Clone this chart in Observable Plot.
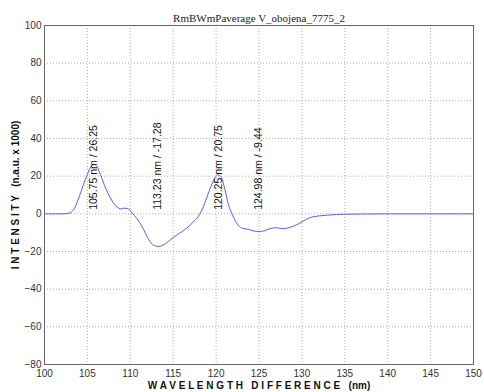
<!DOCTYPE html>
<html>
<head>
<meta charset="utf-8">
<script src="https://cdn.jsdelivr.net/npm/d3@7"></script>
<script src="https://cdn.jsdelivr.net/npm/@observablehq/plot@0.6"></script>
<style>
  body { margin: 0; background: #fff; }
  svg { font-family: Arial, "Liberation Sans", sans-serif; }
</style>
</head>
<body>
<div id="chart"></div>
<script>
const titleText = "RmBWmPaverage V_obojena_7775_2";
const xLabel = "W A V E L E N G T H   D I F F E R E N C E   (nm)";
const yLabel = "I N T E N S I T Y   (n.a.u. x 1000)";

const wavelength = [100, 101, 102, 102.5, 103, 103.5, 104, 104.5, 105, 105.4, 105.75, 106.1, 106.5, 107, 107.5, 108, 108.5, 108.9, 109.3, 109.7, 110.2, 110.8, 111.4, 112, 112.6, 113.23, 113.8, 114.4, 115, 115.9, 116.6, 117.3, 117.9, 118.4, 118.9, 119.4, 119.9, 120.25, 120.6, 121.0, 121.4, 121.9, 122.4, 123.0, 123.8, 124.3, 124.98, 125.6, 126.3, 127.0, 127.9, 128.6, 129.3, 130, 130.6, 131.3, 132, 133, 134, 135, 137, 140, 145, 150];
const intensity = [0, 0, 0, 0.1, 0.6, 3, 8.5, 15, 21, 25, 26.25, 25.2, 21, 15, 10, 6, 3.5, 2.6, 3.0, 2.8, 0.5, -2.7, -7, -12.5, -16.3, -17.28, -16.7, -14.8, -12.6, -9.8, -7.5, -4.5, -1.5, 2.5, 8.5, 14.5, 19.3, 20.75, 19.4, 13.5, 5.5, -0.5, -5, -7.6, -8.3, -9, -9.44, -9, -7.8, -7.4, -7.9, -7.2, -6, -4.3, -2.7, -1.6, -1.1, -0.7, -0.4, -0.2, -0.1, 0, 0, 0];

const peakWavelength = [105.75, 113.23, 120.25, 124.98];
const peakValue = [26.25, -17.28, 20.75, -9.44];

const xTicks = [100, 105, 110, 115, 120, 125, 130, 135, 140, 145, 150];
const yTicks = [-80, -60, -40, -20, 0, 20, 40, 60, 80, 100];

const curve = wavelength.map((w, i) => ({w, v: intensity[i]}));
const peaks = peakWavelength.map((w, i) => ({w, v: peakValue[i], label: `${w.toFixed(2)} nm / ${peakValue[i].toFixed(2)}`}));

const plot = Plot.plot({
  width: 484,
  height: 392,
  marginLeft: 44,
  marginRight: 11,
  marginTop: 25,
  marginBottom: 28,
  style: {fontFamily: "Arial, 'Liberation Sans', sans-serif", fontSize: "10px", background: "#fff"},
  x: {domain: [100, 150]},
  y: {domain: [-80, 100]},
  marks: [
    Plot.gridX(xTicks.slice(1, -1), {stroke: "#999", strokeOpacity: 0.8, strokeDasharray: "1,2"}),
    Plot.gridY(yTicks.slice(1, -1), {stroke: "#999", strokeOpacity: 0.8, strokeDasharray: "1,2"}),
    Plot.axisX(xTicks, {tickSize: 0, tickPadding: 5, label: null, fill: "#333", fontSize: 10}),
    Plot.axisY(yTicks, {tickSize: 0, tickPadding: 3, label: null, fill: "#333", fontSize: 10}),
    Plot.frame({stroke: "#666"}),
    Plot.line(curve, {x: "w", y: "v", stroke: "#5a5aff", strokeWidth: 1, curve: "monotone-x"}),
    Plot.text(peaks, {x: "w", y: 0, text: "label", rotate: -90, textAnchor: "start", lineAnchor: "middle", dy: -4, fontSize: 10.5, fill: "#111"}),
    Plot.text([titleText], {frameAnchor: "top", dy: -11, fontFamily: "'Liberation Serif', 'Times New Roman', serif", fontSize: 11, fill: "#222"}),
    Plot.text([xLabel], {frameAnchor: "bottom", lineAnchor: "middle", dy: 21, fontWeight: "bold", fontSize: 10, fill: "#111"}),
    Plot.text([yLabel], {frameAnchor: "left", textAnchor: "middle", lineAnchor: "middle", dx: -29, rotate: -90, fontWeight: "bold", fontSize: 10, fill: "#111"})
  ]
});
document.getElementById("chart").appendChild(plot);
</script>
</body>
</html>
